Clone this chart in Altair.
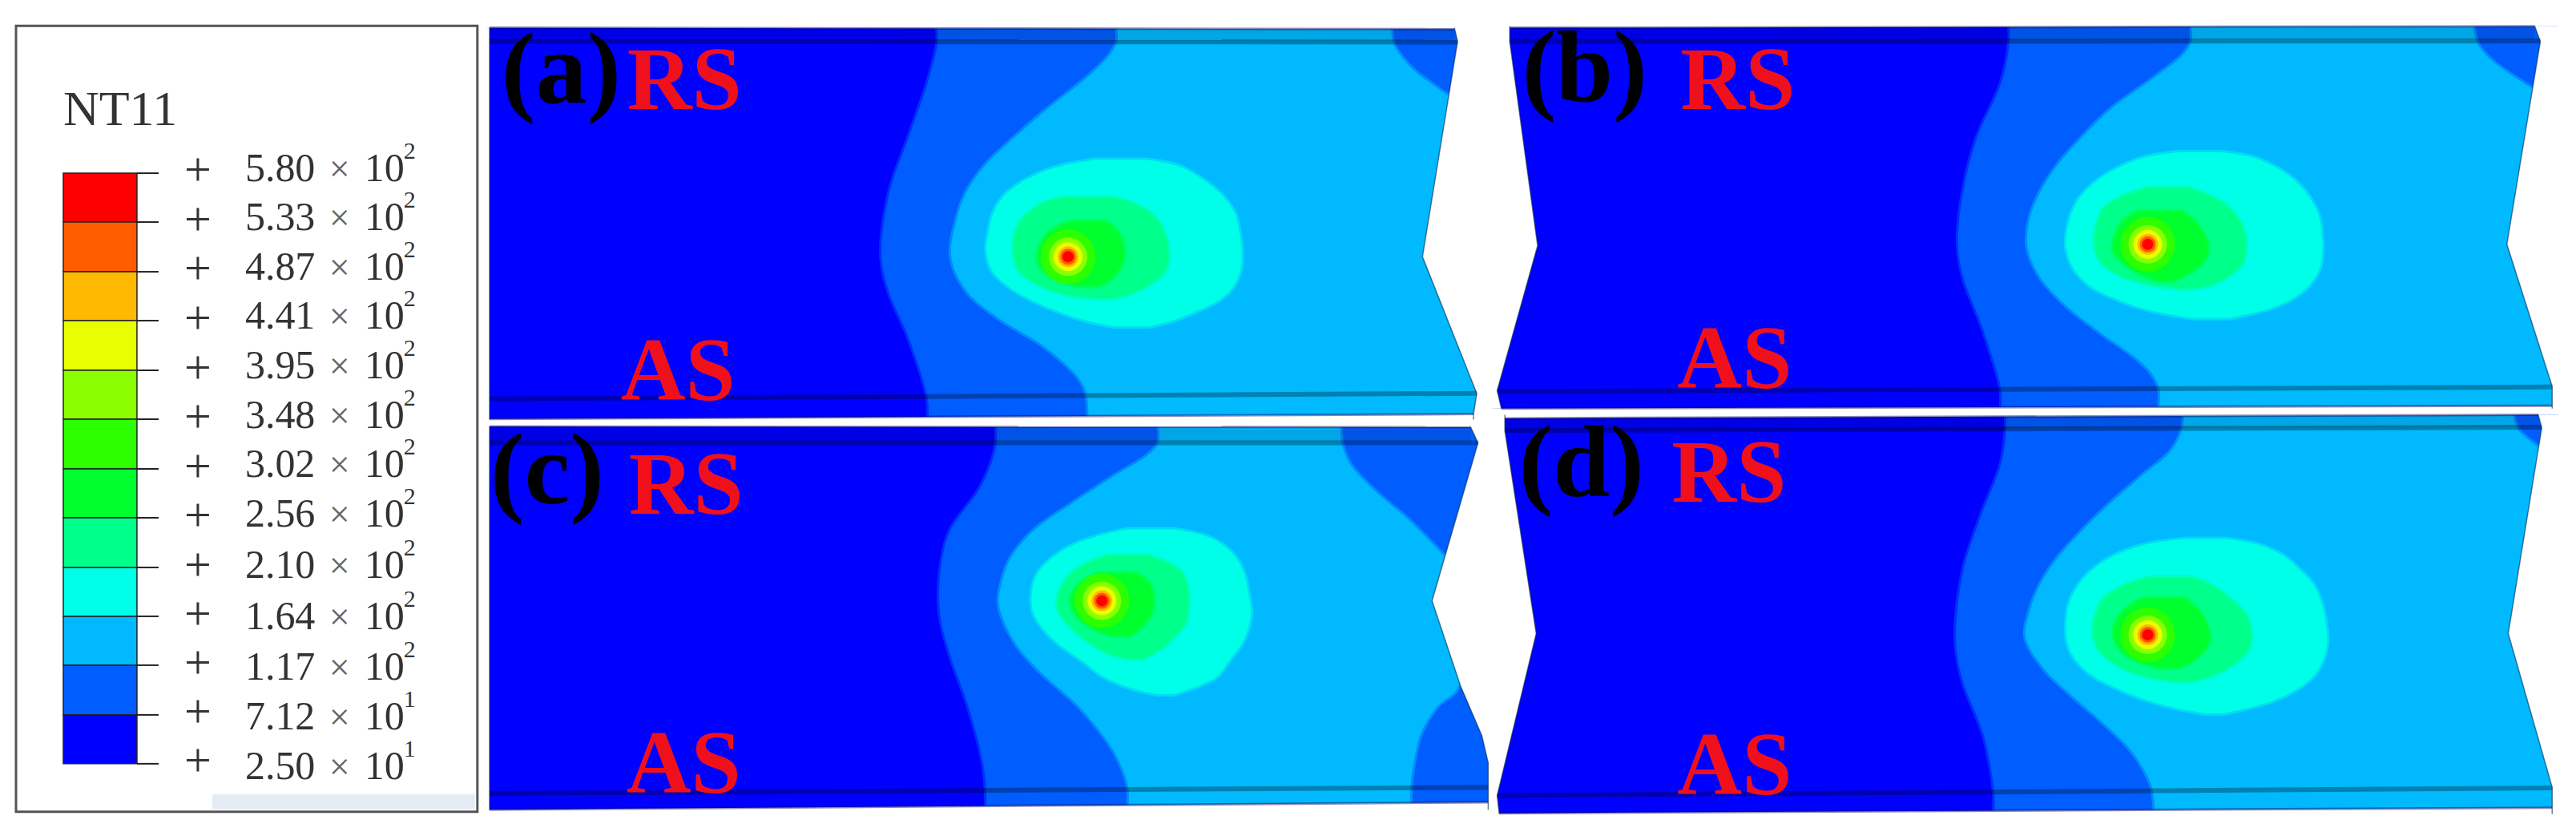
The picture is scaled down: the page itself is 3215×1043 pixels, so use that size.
import altair as alt
import pandas as pd

LEVELS = ["2.50", "7.12", "1.17", "1.64", "2.10", "2.56", "3.02", "3.48", "3.95", "4.41", "4.87", "5.33"]
COLORS = ["#0000ff", "#005dff", "#00b9ff", "#00ffe8", "#00ff8b", "#00ff2e", "#2eff00", "#8bff00", "#e8ff00", "#ffb900", "#ff5d00", "#ff0000"]
HOT_RADII = [34, 24, 18, 13, 10, 7]
HOT_LEVELS = ["3.02", "3.48", "3.95", "4.41", "4.87", "5.33"]

# Contours: (row, left, right) or (row, boundary).
A = dict(crop=(600, 0, 1250, 540), oval=(1180, 170), xmin=14, xmax=1570,
    left=[(100, 14), (1520, 14)],
    right=[(100, 1525), (150, 1530), (930, 1475), (1425, 1560), (1500, 1555), (1520, 1555)],
    b1=[(100, 715), (150, 716), (300, 700), (500, 670), (700, 640), (930, 628), (1060, 640), (1220, 670), (1440, 700), (1510, 702)],
    b2=[(100, 997), (150, 997), (200, 985), (280, 950), (400, 885), (500, 835), (600, 790), (700, 760), (800, 745), (930, 737), (1050, 760), (1150, 810), (1250, 880), (1350, 930), (1400, 945), (1440, 950), (1510, 952)],
    corners=[[(100, 1430), (150, 1432), (200, 1445), (250, 1465), (335, 1515)]],
    cyan=[(88, 560, 760), (110, 440, 870), (140, 350, 930), (180, 275, 990), (230, 215, 1045), (290, 180, 1085), (350, 165, 1100), (430, 155, 1110), (500, 175, 1105), (560, 235, 1080), (610, 320, 1030), (650, 410, 950), (690, 530, 850), (712, 640, 760)],
    g1=[(228, 450, 620), (250, 370, 700), (290, 310, 770), (340, 270, 810), (420, 255, 835), (500, 275, 825), (550, 340, 770), (590, 450, 690), (605, 560, 620)],
    g2=[(320, 470, 600), (350, 400, 640), (400, 360, 665), (450, 345, 670), (500, 365, 650), (540, 430, 610), (560, 500, 570)],
    hot=(920, 930),
    edges=dict(top=[(14, 100), (1525, 105)], ftop=[(14, 150), (1530, 152)], fbot=[(14, 1445), (1560, 1425)], bot=[(14, 1518), (1555, 1500)]))

B = dict(crop=(1850, 0, 1365, 540), oval=(2520, 170), xmin=18, xmax=1540,
    left=[(95, 40), (150, 40), (890, 80), (1415, 22), (1480, 28)],
    right=[(95, 1510), (150, 1518), (885, 1470), (1400, 1535), (1480, 1535)],
    b1=[(100, 757), (150, 757), (300, 745), (500, 710), (700, 690), (880, 683), (1000, 690), (1200, 720), (1415, 745), (1475, 745)],
    b2=[(100, 1018), (150, 1018), (200, 1005), (280, 965), (400, 900), (500, 860), (600, 825), (700, 800), (800, 785), (900, 783), (1000, 800), (1100, 835), (1200, 885), (1300, 940), (1350, 960), (1410, 972), (1475, 972)],
    corners=[[(95, 1425), (150, 1430), (200, 1445), (250, 1470), (315, 1510)]],
    cyan=[(60, 600, 760), (80, 470, 880), (120, 370, 970), (170, 290, 1040), (230, 230, 1090), (300, 195, 1125), (370, 180, 1135), (420, 180, 1138), (500, 210, 1125), (560, 270, 1085), (610, 370, 1020), (650, 490, 920), (680, 650, 790)],
    g1=[(195, 480, 640), (230, 380, 730), (270, 320, 790), (330, 295, 835), (400, 285, 850), (470, 310, 840), (520, 380, 790), (555, 500, 720), (570, 610, 640)],
    g2=[(280, 450, 610), (320, 390, 660), (380, 360, 700), (430, 355, 710), (480, 400, 680), (520, 470, 620), (540, 530, 580)],
    hot=(955, 885),
    edges=dict(top=[(40, 100), (1510, 95)], ftop=[(40, 150), (1518, 148)], fbot=[(22, 1418), (1535, 1402)], bot=[(28, 1480), (1535, 1470)]))

C = dict(crop=(600, 510, 1250, 533), oval=(1240, 640), xmin=14, xmax=1585,
    left=[(65, 14), (1472, 14)],
    right=[(65, 1550), (125, 1562), (705, 1490), (1020, 1535), (1200, 1568), (1300, 1578), (1472, 1578)],
    b1=[(65, 808), (125, 808), (200, 800), (300, 780), (450, 735), (600, 720), (760, 720), (900, 735), (1100, 765), (1300, 787), (1410, 792), (1460, 792)],
    b2=[(65, 1062), (125, 1062), (170, 1045), (250, 990), (350, 925), (450, 865), (550, 830), (650, 815), (720, 812), (850, 835), (950, 870), (1100, 940), (1250, 990), (1350, 1010), (1400, 1015), (1450, 1015)],
    corners=[[(65, 1350), (125, 1352), (200, 1365), (300, 1405), (400, 1455), (530, 1510)],
             [(1020, 1535), (1100, 1500), (1200, 1475), (1300, 1465), (1390, 1460), (1472, 1460)]],
    cyan=[(62, 500, 680), (85, 400, 790), (120, 300, 860), (170, 220, 910), (230, 165, 940), (300, 145, 955), (370, 150, 965), (430, 185, 955), (490, 245, 930), (550, 330, 885), (610, 410, 840), (650, 500, 760), (678, 610, 680)],
    g1=[(160, 430, 580), (190, 350, 660), (230, 290, 710), (290, 250, 730), (350, 240, 730), (410, 275, 720), (470, 340, 670), (520, 420, 610), (545, 500, 560)],
    g2=[(225, 400, 530), (260, 330, 580), (320, 290, 600), (380, 310, 590), (430, 370, 550), (460, 450, 510)],
    hot=(973, 705),
    edges=dict(top=[(14, 65), (1550, 68)], ftop=[(14, 125), (1562, 125)], fbot=[(14, 1412), (1578, 1390)], bot=[(14, 1472), (1578, 1445)]))

D = dict(crop=(1850, 510, 1365, 533), oval=(2520, 650), xmin=18, xmax=1540,
    left=[(22, 33), (80, 33), (825, 78), (1420, 22), (1488, 25)],
    right=[(22, 1515), (70, 1520), (825, 1472), (1390, 1535), (1488, 1535)],
    b1=[(30, 752), (75, 752), (200, 745), (400, 715), (600, 690), (850, 680), (1000, 690), (1200, 720), (1410, 735), (1475, 735)],
    b2=[(25, 1007), (70, 1005), (150, 990), (250, 945), (350, 900), (450, 860), (550, 825), (650, 800), (750, 785), (840, 780), (950, 805), (1050, 845), (1150, 890), (1250, 930), (1350, 955), (1400, 962), (1470, 965)],
    corners=[[(22, 1482), (70, 1488), (100, 1500), (130, 1515)]],
    cyan=[(68, 620, 780), (90, 470, 900), (130, 360, 990), (180, 280, 1050), (240, 225, 1105), (310, 190, 1135), (380, 180, 1150), (460, 185, 1155), (520, 215, 1140), (580, 280, 1105), (630, 380, 1040), (670, 480, 960), (700, 590, 860), (720, 700, 770)],
    g1=[(210, 500, 640), (240, 400, 720), (290, 320, 790), (350, 290, 850), (420, 280, 870), (480, 300, 860), (540, 370, 800), (580, 470, 720), (600, 590, 650)],
    g2=[(290, 470, 620), (330, 400, 670), (390, 360, 705), (440, 360, 715), (490, 390, 690), (530, 460, 640), (550, 530, 590)],
    hot=(955, 830),
    edges=dict(top=[(33, 35), (1515, 22)], ftop=[(33, 80), (1520, 68)], fbot=[(22, 1420), (1535, 1392)], bot=[(25, 1485), (1535, 1465)]))

PANELS = [A, B, C, D]

PANEL_TAGS = ["(a)", "(b)", "(c)", "(d)"]
TAG_X = [626, 1900, 612, 1896]
TAG_Y = [128, 126, 628, 618]
RS_X = [783, 2098, 785, 2087]
RS_Y = [136, 136, 641, 626]
AS_X = [775, 2094, 782, 2094]
AS_Y = [499, 484, 989, 991]

LEGEND_TITLE = "NT11"
MANTISSA = ["5.80", "5.33", "4.87", "4.41", "3.95", "3.48", "3.02", "2.56", "2.10", "1.64", "1.17", "7.12", "2.50"]
EXPONENT = ["2"] * 11 + ["1", "1"]
TICK_Y = [216, 277, 339, 400, 462, 523, 585, 646, 708, 769, 830, 892, 953]
PLUS_Y = [231, 293, 354, 416, 478, 539, 601, 662, 724, 785, 846, 907, 968]
LABEL_Y = [226, 287, 349, 410, 472, 534, 595, 657, 721, 785, 848, 910, 972]

W, H = 3200, 1030
sx = alt.Scale(domain=[8, 8 + W], nice=False, zero=False)
sy = alt.Scale(domain=[8 + H, 8], nice=False, zero=False)
cs = alt.Scale(domain=LEVELS, range=COLORS)
X = lambda f: alt.X(f, scale=sx, axis=None)
Y = lambda f: alt.Y(f, scale=sy, axis=None)

zones, masks, edge_masks, lines, outlines, hots, sid = [], [], [], [], [], [], 0

for pi, p in enumerate(PANELS):
    cx, cy, cw, ch = p["crop"]
    ox, oy = p["oval"]
    fx = lambda v: cx + v * cw / 1568
    fy = lambda v: cy + v * ch / 1568
    top = min(r[0] for r in p["left"] + p["right"])
    bot = max(r[0] for r in p["left"] + p["right"])

    def add(rows, level):
        global sid
        sid += 1
        for r in rows:
            zones.append(dict(id=sid, y=fy(r[0]), a=fx(r[1]), b=fx(r[2]), level=level))

    def add_oval(rows, level):
        global sid
        sid += 1
        for r in rows:
            zones.append(dict(id=sid, y=oy + r[0] / 3, a=ox + r[1] / 3, b=ox + r[2] / 3, level=level))

    def stretch(rows):
        rows = list(rows)
        if rows[0][0] > top:
            rows.insert(0, (top, rows[0][1]))
        if rows[-1][0] < bot:
            rows.append((bot, rows[-1][1]))
        return [(r[0], r[1], p["xmax"]) for r in rows]

    add([(top, p["xmin"], p["xmax"]), (bot, p["xmin"], p["xmax"])], "2.50")
    add(stretch(p["b1"]), "7.12")
    add(stretch(p["b2"]), "1.17")
    for c in p["corners"]:
        rows = [(r[0], r[1], p["xmax"]) for r in c]
        if c[0][0] > top:
            rows.insert(0, (top, c[0][1], p["xmax"]))
        if c[-1][0] > bot - 20:
            rows.append((bot, c[-1][1], p["xmax"]))
        add(rows, "7.12")
    add_oval(p["cyan"], "1.64")
    add_oval(p["g1"], "2.10")
    add_oval(p["g2"], "2.56")

    for r in p["left"]:
        masks.append(dict(id=f"L{pi}", y=fy(r[0]), a=fx(p["xmin"]) - 4, b=fx(r[1])))
    for r in p["right"]:
        masks.append(dict(id=f"R{pi}", y=fy(r[0]), a=fx(r[1]), b=fx(p["xmax"]) + 4))

    for name, y_far in (("top", fy(top) - 4), ("bot", fy(bot) + 4)):
        (x0, y0), (x1, y1) = p["edges"][name]
        for xv, yv in ((fx(p["xmin"]) - 4, y0), (fx(x0), y0), (fx(x1), y1), (fx(p["xmax"]) + 4, y1)):
            edge_masks.append(dict(id=f"{name}{pi}", x=xv, y=fy(yv), y2=y_far))

    for name in ("top", "ftop", "fbot", "bot"):
        for i, (xv, yv) in enumerate(p["edges"][name]):
            lines.append(dict(id=f"{name}{pi}", kind=name, i=i, x=fx(xv), y=fy(yv)))
    (ax, ay), (bx, by) = p["edges"]["top"]
    (cx0, cy0), (dx0, dy0) = p["edges"]["ftop"]
    lines.append(dict(id=f"strip{pi}", kind="strip", i=0, x=fx(max(ax, cx0)), y=(fy(ay) + fy(cy0)) / 2))
    lines.append(dict(id=f"strip{pi}", kind="strip", i=1, x=fx(min(bx, dx0)), y=(fy(by) + fy(dy0)) / 2))

    for side in ("left", "right"):
        for i, r in enumerate(p[side]):
            outlines.append(dict(id=f"{side}{pi}", i=i, x=fx(r[1]), y=fy(r[0])))

    for lev in HOT_LEVELS:
        hots.append(dict(x=fx(p["hot"][0]), y=fy(p["hot"][1]), level=lev))

zone_df = pd.DataFrame(zones)
layer_zones = alt.Chart(zone_df).mark_area(orient="horizontal", interpolate="catmull-rom", strokeWidth=6, strokeOpacity=0.5).encode(
    y=Y("y:Q"), x=X("a:Q"), x2="b:Q",
    color=alt.Color("level:N", scale=cs, legend=None),
    stroke=alt.Stroke("level:N", scale=cs, legend=None),
    detail="id:N",
)
layer_masks = alt.Chart(pd.DataFrame(masks)).mark_area(orient="horizontal", interpolate="linear", color="white").encode(
    y=Y("y:Q"), x=X("a:Q"), x2="b:Q", detail="id:N")
layer_edge_masks = alt.Chart(pd.DataFrame(edge_masks)).mark_area(orient="vertical", interpolate="linear", color="white").encode(
    x=X("x:Q"), y=Y("y:Q"), y2="y2:Q", detail="id:N")

line_df = pd.DataFrame(lines)
def line_layer(kinds, width, opacity, color="black"):
    d = line_df[line_df.kind.isin(kinds)]
    return alt.Chart(d).mark_line(strokeWidth=width, opacity=opacity, color=color).encode(
        x=X("x:Q"), y=Y("y:Q"), detail="id:N", order="i:Q")

layer_strip = line_layer(["strip"], 15, 0.1)
layer_fold = line_layer(["ftop", "fbot"], 6, 0.3)
layer_edge = line_layer(["top", "bot"], 3, 0.45, "#000060")
layer_out = alt.Chart(pd.DataFrame(outlines)).mark_line(strokeWidth=1.5, opacity=0.6, color="#0a2a50").encode(
    x=X("x:Q"), y=Y("y:Q"), detail="id:N", order="i:Q")

hot_df = pd.DataFrame(hots)
hot_layers = [
    alt.Chart(hot_df[hot_df.level == lev]).mark_circle(opacity=1, size=(2 * r) ** 2).encode(
        x=X("x:Q"), y=Y("y:Q"), color=alt.Color("level:N", scale=cs, legend=None))
    for lev, r in zip(HOT_LEVELS, HOT_RADII)
]

def text_layer(texts, xs, ys, size, color, bold=False, align="left", opacity=1.0):
    d = pd.DataFrame(dict(t=texts, x=xs, y=ys))
    return alt.Chart(d).mark_text(font="Liberation Serif", fontSize=size, color=color,
                                  fontWeight="bold" if bold else "normal", align=align,
                                  baseline="alphabetic", opacity=opacity).encode(
        x=X("x:Q"), y=Y("y:Q"), text="t:N")

layer_tags = text_layer(PANEL_TAGS, TAG_X, TAG_Y, 128, "#000000", bold=True)
layer_rs = text_layer(["RS"] * 4, RS_X, RS_Y, 112, "#f0101c", bold=True)
layer_as = text_layer(["AS"] * 4, AS_X, AS_Y, 112, "#f0101c", bold=True)

# Legend
box = alt.Chart(pd.DataFrame(dict(x=[20], x2=[596], y=[32], y2=[1013]))).mark_rect(
    fill="white", stroke="#555555", strokeWidth=3).encode(x=X("x:Q"), x2="x2:Q", y=Y("y:Q"), y2="y2:Q")
strip = alt.Chart(pd.DataFrame(dict(x=[265], x2=[593], y=[991], y2=[1010]))).mark_rect(
    fill="#e6ecf6").encode(x=X("x:Q"), x2="x2:Q", y=Y("y:Q"), y2="y2:Q")
bar_levels = LEVELS[::-1]
bar = alt.Chart(pd.DataFrame(dict(level=bar_levels, y=TICK_Y[:-1], y2=TICK_Y[1:], x=[79] * 12, x2=[171] * 12))).mark_rect(
    stroke="#222222", strokeWidth=1.5).encode(
    x=X("x:Q"), x2="x2:Q", y=Y("y:Q"), y2="y2:Q",
    color=alt.Color("level:N", scale=cs, legend=None))
ticks = alt.Chart(pd.DataFrame(dict(y=TICK_Y, x=[171] * 13, x2=[198] * 13))).mark_rule(
    color="#222222", strokeWidth=2).encode(x=X("x:Q"), x2="x2:Q", y=Y("y:Q"))

n = len(MANTISSA)
layer_title = text_layer([LEGEND_TITLE], [79], [156], 62, "#333333")
layer_plus = text_layer(["+"] * n, [247] * n, PLUS_Y, 60, "#333333", align="center")
layer_mant = text_layer(MANTISSA, [306] * n, LABEL_Y, 50, "#333333")
layer_x = text_layer(["×"] * n, [411] * n, LABEL_Y, 46, "#666666")
layer_ten = text_layer(["10"] * n, [455] * n, LABEL_Y, 50, "#333333")
layer_exp = text_layer(EXPONENT, [504] * n, [v - 28 for v in LABEL_Y], 30, "#333333")

chart = alt.layer(
    layer_zones, layer_masks, layer_edge_masks, layer_strip, layer_fold, layer_edge, layer_out, *hot_layers,
    layer_tags, layer_rs, layer_as,
    box, strip, bar, ticks, layer_title, layer_plus, layer_mant, layer_x, layer_ten, layer_exp,
).resolve_scale(color="shared", stroke="shared").properties(
    width=W, height=H, padding=0, background="white",
    autosize=alt.AutoSizeParams(type="none"),
).configure_view(stroke=None)

chart.save("out.html", embed_options={"renderer": "svg", "actions": False})
